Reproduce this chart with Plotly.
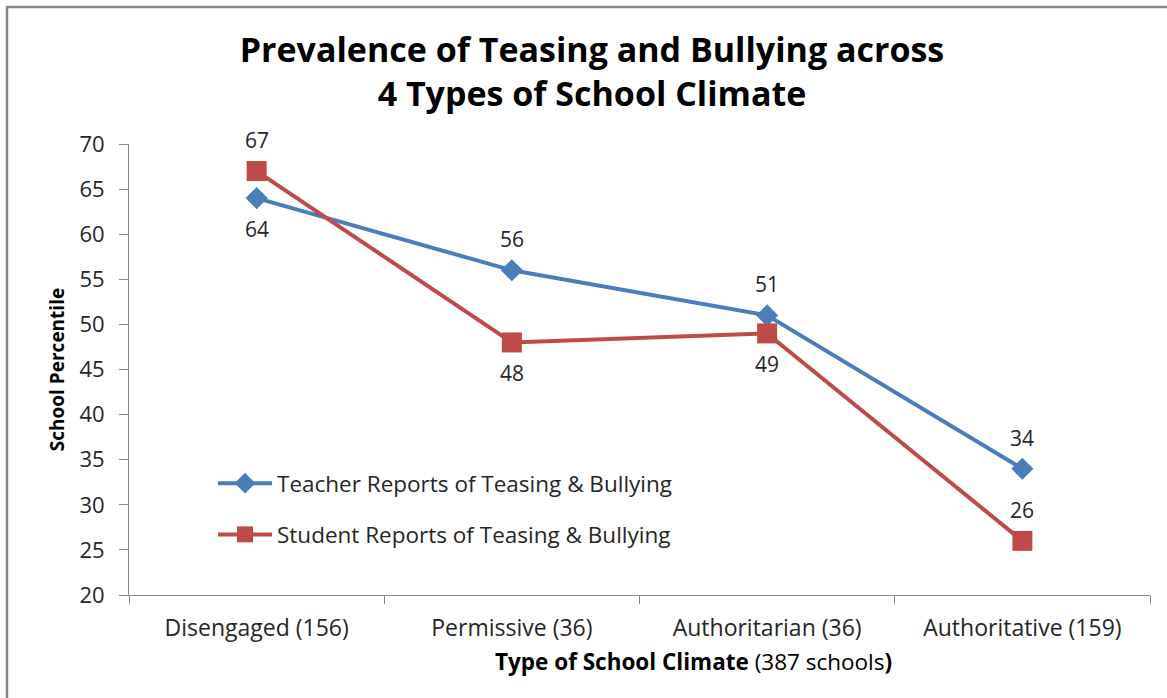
import plotly.graph_objects as go

categories = ["Disengaged (156)", "Permissive (36)", "Authoritarian (36)", "Authoritative (159)"]
teacher = [64, 56, 51, 34]
student = [67, 48, 49, 26]
teacher_shift = [-31, 31, 31, 31]
student_shift = [31, -31, -31, 31]
y_ticks = [20, 25, 30, 35, 40, 45, 50, 55, 60, 65, 70]

FONT = "Open Sans"
TXT = "#262626"

fig = go.Figure()
fig.add_trace(go.Scatter(
    x=categories, y=teacher, mode="lines+markers",
    name="Teacher Reports of Teasing & Bullying",
    line=dict(color="#4A7EBB", width=4),
    marker=dict(symbol="diamond", size=17, color="#4A7EBB"),
    legendgroup="a",
))
fig.add_trace(go.Scatter(
    x=categories, y=student, mode="lines+markers",
    name="Student Reports of Teasing & Bullying",
    line=dict(color="#BE4B48", width=4),
    marker=dict(symbol="square", size=20, color="#BE4B48"),
    legendgroup="b",
))

# data labels
for xs, ys, shifts in [(categories, teacher, teacher_shift), (categories, student, student_shift)]:
    for c, v, s in zip(xs, ys, shifts):
        fig.add_annotation(x=c, y=v, text=str(v), showarrow=False, yshift=s,
                           font=dict(family=FONT, size=21, color=TXT))

W, H = 1167, 698
L, R, T, B = 129, 17, 144, 103
pw, ph = W - L - R, H - T - B

def px(xp):
    return (xp - L) / pw

def py(yp):
    return (H - B - yp) / ph

# x-axis title (placed as in the reference, right of the plot centre)
fig.add_annotation(xref="paper", yref="paper", x=px(693), y=py(661),
                   xanchor="center", yanchor="middle", showarrow=False,
                   text="<b>Type of School Climate</b> (387 schools<b>)</b>",
                   font=dict(family=FONT, size=22.5, color="#000000"))

fig.update_layout(
    width=W, height=H,
    margin=dict(l=L, r=R, t=T, b=B),
    paper_bgcolor="white", plot_bgcolor="white",
    font=dict(family=FONT, color=TXT, size=21),
    title=dict(
        text="<b>Prevalence of Teasing and Bullying across<br>4 Types of School Climate</b>",
        x=592 / W, xanchor="center", y=1 - 61.5 / H, yanchor="middle",
        font=dict(family=FONT, size=34, color="#000000"),
    ),
    showlegend=True,
    legend=dict(
        x=px(213), y=py(462), xanchor="left", yanchor="top",
        bgcolor="rgba(0,0,0,0)", font=dict(family=FONT, size=22.5, color=TXT),
        traceorder="grouped", tracegroupgap=19, itemwidth=54,
    ),
    xaxis=dict(
        type="category", range=[-0.5, 3.5],
        showline=True, linecolor="#868686", linewidth=1,
        ticks="outside", tickson="boundaries", ticklen=8, tickcolor="#868686",
        ticklabelstandoff=12,
        showgrid=False, zeroline=False,
        tickfont=dict(family=FONT, size=23, color=TXT),
    ),
    yaxis=dict(
        range=[20, 70], tickvals=y_ticks, showline=True, linecolor="#868686", linewidth=1,
        ticks="outside", ticklen=9, tickcolor="#868686", ticklabelstandoff=10,
        showgrid=False, zeroline=False,
        tickfont=dict(family=FONT, size=22, color=TXT),
        title=dict(text="<b>School Percentile</b>",
                   font=dict(family=FONT, size=19, color="#000000"), standoff=9),
    ),
)

# chart frame (partially cut off at right and bottom as in the reference)
fig.add_shape(type="rect", xref="paper", yref="paper",
              x0=px(7), x1=px(W + 20), y0=py(H + 20), y1=py(7),
              line=dict(color="#868686", width=2.5), fillcolor="rgba(0,0,0,0)",
              layer="below")

fig.write_html("out.html", config={"displayModeBar": False},
               post_script="document.body.style.margin='0';")
